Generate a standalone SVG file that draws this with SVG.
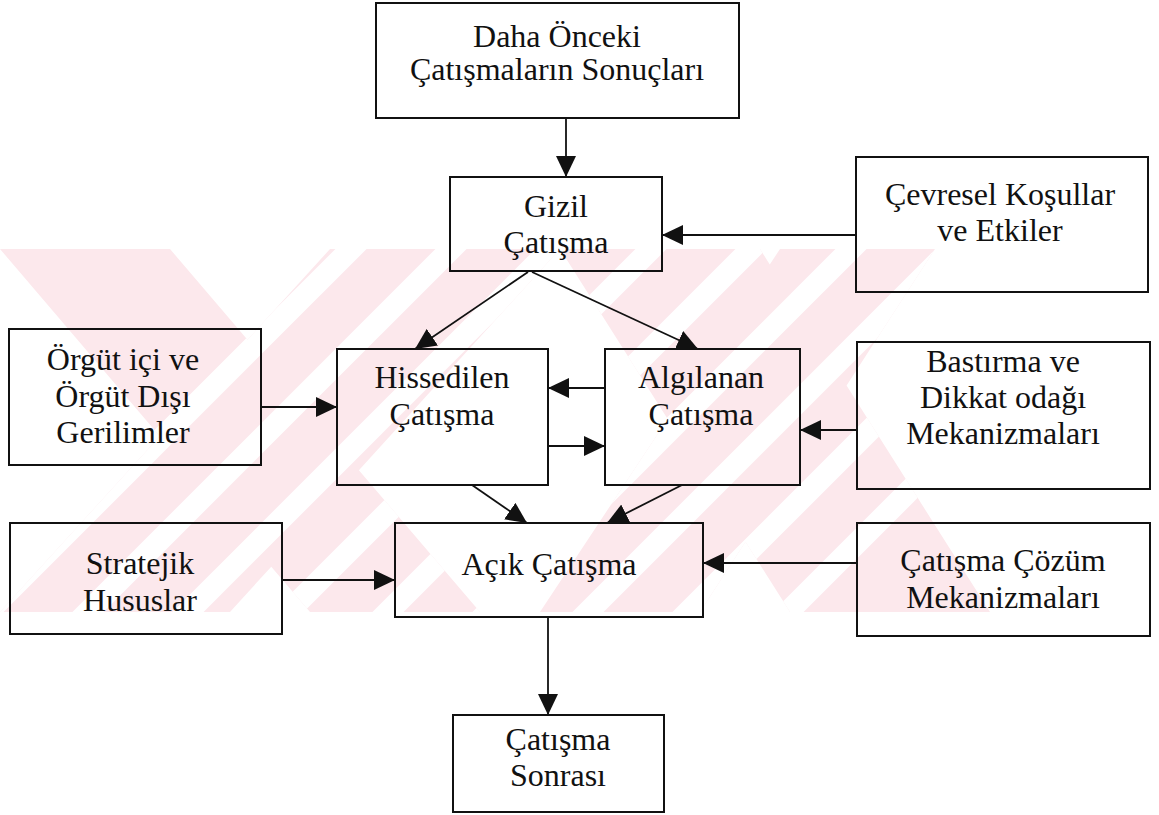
<svg xmlns="http://www.w3.org/2000/svg" width="1159" height="815" viewBox="0 0 1159 815">
<style>
  .box{fill:none;stroke:#111;stroke-width:2}
  .t{font-size:32px;fill:#111;text-anchor:middle}
  .c{fill:none;stroke:#111;stroke-width:1.8}
  .wm{fill:#fce8ec}
  .ws{stroke:#fff;stroke-width:22}
</style>
<defs>
  <marker id="ah" viewBox="0 0 21 20" refX="21" refY="10" markerWidth="21" markerHeight="20" orient="auto" markerUnits="userSpaceOnUse">
    <path d="M0,0 L21,10 L0,20 z" fill="#111"/>
  </marker>
  <clipPath id="wmclip">
    <polygon points="0,249 170,249 480,612 310,612"/>
    <polygon points="330,249 560,249 230,612 0,612"/>
    <polygon points="560,249 760,249 990,612 790,612"/>
    <polygon points="780,249 935,249 700,612 540,612"/>
  </clipPath>
</defs>
<g id="watermark">
  <g clip-path="url(#wmclip)">
    <rect x="0" y="249" width="1000" height="363" class="wm"/>
    <g class="ws">
      <line x1="-100" y1="700" x2="400" y2="200"/>
      <line x1="0" y1="700" x2="500" y2="200"/>
      <line x1="100" y1="700" x2="600" y2="200"/>
      <line x1="200" y1="700" x2="700" y2="200"/>
      <line x1="300" y1="700" x2="800" y2="200"/>
      <line x1="400" y1="700" x2="900" y2="200"/>
      <line x1="500" y1="700" x2="1000" y2="200"/>
      <line x1="600" y1="700" x2="1100" y2="200"/>
      <line x1="700" y1="700" x2="1200" y2="200"/>
    </g>
  </g>
</g>
<g id="connectors">
  <line class="c" x1="566" y1="118" x2="566" y2="177" marker-end="url(#ah)"/>
  <line class="c" x1="856" y1="235" x2="662" y2="235" marker-end="url(#ah)"/>
  <line class="c" x1="528" y1="272" x2="415" y2="349" marker-end="url(#ah)"/>
  <line class="c" x1="532" y1="272" x2="698" y2="349" marker-end="url(#ah)"/>
  <line class="c" x1="261" y1="407" x2="337" y2="407" marker-end="url(#ah)"/>
  <line class="c" x1="605" y1="388" x2="548" y2="388" marker-end="url(#ah)"/>
  <line class="c" x1="548" y1="446" x2="605" y2="446" marker-end="url(#ah)"/>
  <line class="c" x1="857" y1="430" x2="800" y2="430" marker-end="url(#ah)"/>
  <line class="c" x1="472" y1="485" x2="527" y2="523" marker-end="url(#ah)"/>
  <line class="c" x1="682" y1="485" x2="607" y2="523" marker-end="url(#ah)"/>
  <line class="c" x1="282" y1="580" x2="395" y2="580" marker-end="url(#ah)"/>
  <line class="c" x1="857" y1="563" x2="703" y2="563" marker-end="url(#ah)"/>
  <line class="c" x1="548" y1="617" x2="548" y2="715" marker-end="url(#ah)"/>
</g>
<g font-family="Liberation Serif, Times New Roman, serif">
<g id="n-onceki">
  <rect class="box" x="376" y="3" width="363" height="115"/>
  <text class="t" x="557" y="47">Daha Önceki</text>
  <text class="t" x="557" y="80">Çatışmaların Sonuçları</text>
</g>
<g id="n-gizil">
  <rect class="box" x="450" y="177" width="212" height="94"/>
  <text class="t" x="556" y="217">Gizil</text>
  <text class="t" x="556" y="253">Çatışma</text>
</g>
<g id="n-cevresel">
  <rect class="box" x="856" y="157" width="292" height="135"/>
  <text class="t" x="1000" y="205">Çevresel Koşullar</text>
  <text class="t" x="1000" y="241">ve Etkiler</text>
</g>
<g id="n-orgut">
  <rect class="box" x="9" y="329" width="252" height="136"/>
  <text class="t" x="123" y="370">Örgüt içi ve</text>
  <text class="t" x="123" y="407">Örgüt Dışı</text>
  <text class="t" x="123" y="443">Gerilimler</text>
</g>
<g id="n-hissedilen">
  <rect class="box" x="337" y="349" width="211" height="136"/>
  <text class="t" x="442" y="388">Hissedilen</text>
  <text class="t" x="442" y="425">Çatışma</text>
</g>
<g id="n-algilanan">
  <rect class="box" x="605" y="349" width="195" height="136"/>
  <text class="t" x="701" y="388">Algılanan</text>
  <text class="t" x="701" y="425">Çatışma</text>
</g>
<g id="n-bastirma">
  <rect class="box" x="857" y="342" width="293" height="147"/>
  <text class="t" x="1003" y="372">Bastırma ve</text>
  <text class="t" x="1003" y="408">Dikkat odağı</text>
  <text class="t" x="1003" y="444">Mekanizmaları</text>
</g>
<g id="n-stratejik">
  <rect class="box" x="10" y="523" width="272" height="111"/>
  <text class="t" x="140" y="574">Stratejik</text>
  <text class="t" x="140" y="611">Hususlar</text>
</g>
<g id="n-acik">
  <rect class="box" x="395" y="523" width="308" height="94"/>
  <text class="t" x="549" y="575">Açık Çatışma</text>
</g>
<g id="n-cozum">
  <rect class="box" x="857" y="523" width="293" height="113"/>
  <text class="t" x="1003" y="571">Çatışma Çözüm</text>
  <text class="t" x="1003" y="608">Mekanizmaları</text>
</g>
<g id="n-sonrasi">
  <rect class="box" x="453" y="715" width="211" height="97"/>
  <text class="t" x="558" y="750">Çatışma</text>
  <text class="t" x="558" y="786">Sonrası</text>
</g>
</g>
</svg>
